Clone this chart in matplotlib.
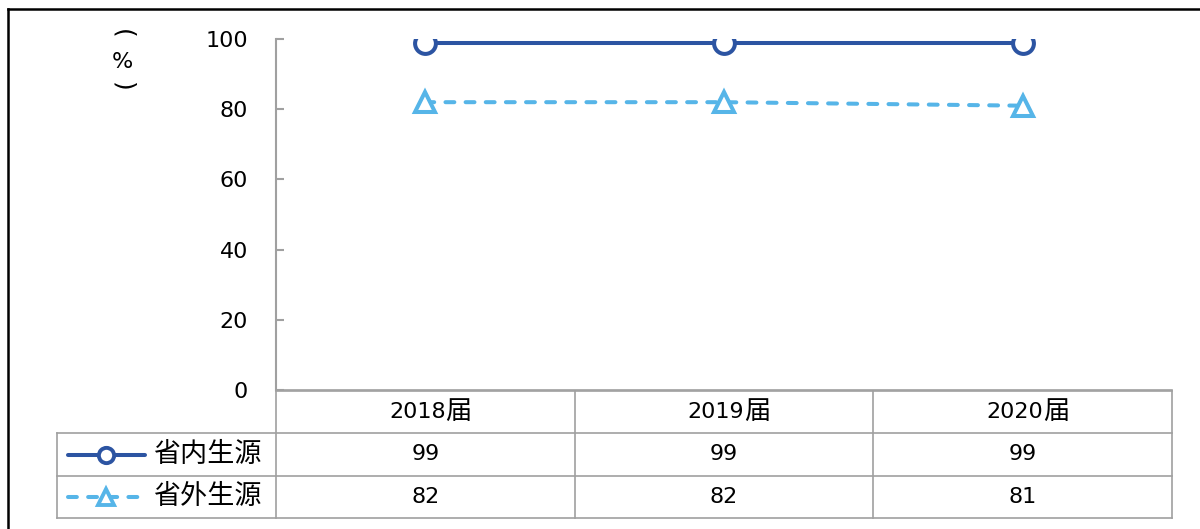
import matplotlib.pyplot as plt
from matplotlib.lines import Line2D

plt.rcParams['font.family'] = ['DejaVu Sans', 'Noto Sans CJK SC']

# data
categories = ['2018届', '2019届', '2020届']
series_names = ['省内生源', '省外生源']
inside = [99, 99, 99]
outside = [82, 82, 81]
yticks = [0, 20, 40, 60, 80, 100]

dark_blue = '#2C54A2'
light_blue = '#56B5E8'
grid_gray = '#A0A0A0'
W, H = 1200, 529
fs = 16

fig = plt.figure(figsize=(12, 5.29), dpi=100)

# main plot area
ax = fig.add_axes([276 / W, 1 - 390 / H, (1172 - 276) / W, (390 - 39) / H])
x = list(range(len(categories)))
ax.plot(x, inside, color=dark_blue, lw=2.9, marker='o', ms=15, mew=2.9,
        mfc='white', mec=dark_blue, zorder=3)
ax.plot(x, outside, color=light_blue, lw=2.9, marker='^', ms=15, mew=2.9,
        mfc='white', mec=light_blue, dashes=(2.2, 2.8),
        dash_capstyle='round', zorder=3)
ax.set_xlim(-0.5, 2.5)
ax.set_ylim(0, 100)
ax.set_yticks(yticks)
ax.set_xticks([])
for s in ['top', 'right']:
    ax.spines[s].set_visible(False)
ax.spines['left'].set_color(grid_gray)
ax.spines['left'].set_linewidth(1.5)
ax.spines['bottom'].set_color(grid_gray)
ax.spines['bottom'].set_linewidth(1.2)
ax.tick_params(axis='y', direction='in', length=6, width=1.5, color=grid_gray,
               labelsize=fs, pad=20)

# vertical axis unit "(%)"
fig.text(122 / W, 1 - 34 / H, '(', rotation=-90, ha='center', va='center', fontsize=18)
fig.text(122 / W, 1 - 62 / H, '%', ha='center', va='center', fontsize=fs)
fig.text(122 / W, 1 - 87 / H, ')', rotation=-90, ha='center', va='center', fontsize=18)

# data table below
left_edge = -0.5 - (276 - 57) / ((1172 - 276) / 3)
tab = fig.add_axes([57 / W, 1 - 518 / H, (1172 - 57) / W, (518 - 391) / H])
tab.set_xlim(left_edge, 2.5)
tab.set_ylim(0, 3)
tab.axis('off')
lk = dict(color=grid_gray, lw=1.2, clip_on=False)
tab.plot([-0.5, 2.5], [3, 3], **lk)
for yy in [0, 1, 2]:
    tab.plot([left_edge, 2.5], [yy, yy], **lk)
tab.plot([left_edge, left_edge], [0, 2], **lk)
for xx in [-0.5, 0.5, 1.5, 2.5]:
    tab.plot([xx, xx], [0, 3], **lk)

for i, c in enumerate(categories):
    tab.text(i + 0.068, 2.5, c[:-1], ha='right', va='center', fontsize=fs)
    tab.text(i + 0.068, 2.5, c[-1], ha='left', va='center', fontsize=19)
    tab.text(i, 1.5, str(inside[i]), ha='center', va='center', fontsize=fs)
    tab.text(i, 0.5, str(outside[i]), ha='center', va='center', fontsize=fs)

# legend keys inside the table
k0 = left_edge + (68 - 57) / 298.67
k1 = left_edge + (145 - 57) / 298.67
km = (k0 + k1) / 2
tx = left_edge + (153 - 57) / 298.67
tab.plot([k0, k1], [1.5, 1.5], color=dark_blue, lw=2.9, solid_capstyle='round', clip_on=False)
tab.plot([km], [1.5], marker='o', ms=11, mew=2.8, mfc='white', mec=dark_blue, clip_on=False)
tab.plot([k0, k1], [0.5, 0.5], color=light_blue, lw=2.9, dashes=(2.2, 2.8),
         dash_capstyle='round', clip_on=False)
tab.plot([km], [0.5], marker='^', ms=12, mew=2.8, mfc='white', mec=light_blue, clip_on=False)
tab.text(tx, 1.5, series_names[0], ha='left', va='center', fontsize=19.5)
tab.text(tx, 0.5, series_names[1], ha='left', va='center', fontsize=19.5)

# outer frame (top and left)
fig.add_artist(Line2D([8 / W, 1], [1 - 9 / H, 1 - 9 / H], color='black', lw=1.8))
fig.add_artist(Line2D([8 / W, 8 / W], [0, 1 - 9 / H], color='black', lw=1.8))

fig.savefig('out.png', dpi=100)
